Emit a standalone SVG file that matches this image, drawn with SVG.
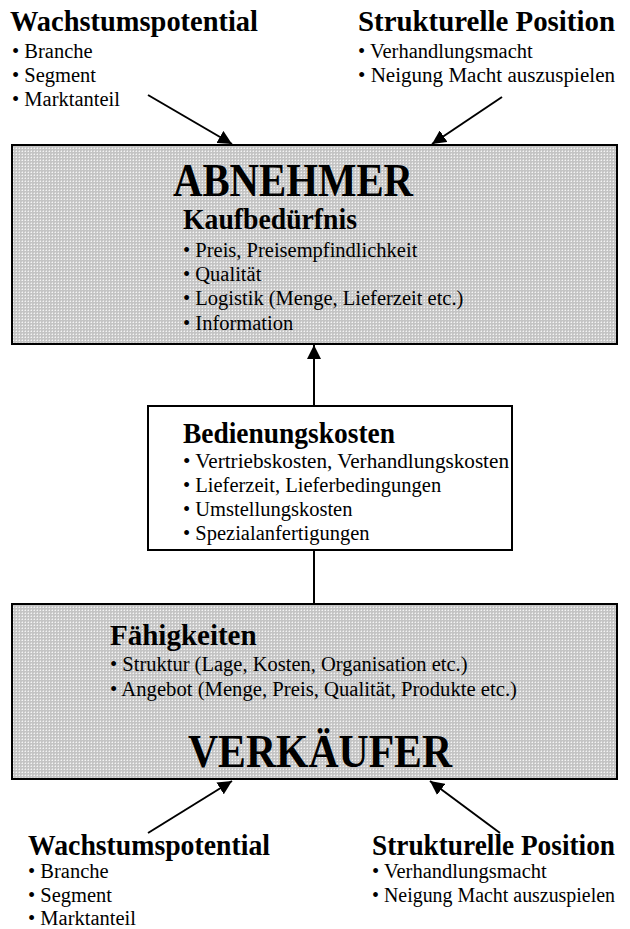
<svg xmlns="http://www.w3.org/2000/svg" width="630" height="929" viewBox="0 0 630 929">
<style>
text{font-family:"Liberation Serif","Times New Roman",serif;fill:#000}
.h{font-weight:bold;font-size:29px}
.b{font-size:20.5px}
.big{font-weight:bold;font-size:46px}
.box{stroke:#000;stroke-width:2;fill:url(#dots)}
.ln{stroke:#000;stroke-width:2;fill:none}
</style>
<defs>
<pattern id="dots" width="3" height="3" patternUnits="userSpaceOnUse">
<rect width="3" height="3" fill="#c4c4c4"/>
<rect x="1" y="1" width="1" height="1" fill="#f4f4f4"/>
<rect x="0" y="1" width="1" height="1" fill="#dadada"/>
<rect x="1" y="0" width="1" height="1" fill="#dadada"/>
</pattern>
<marker id="ah" markerUnits="userSpaceOnUse" markerWidth="16" markerHeight="14" refX="14" refY="7" orient="auto">
<path d="M0,0 L14,7 L0,14 Z" fill="#000"/>
</marker>
</defs>
<g id="wachstum-top">
<text class="h" x="10" y="31" textLength="248" lengthAdjust="spacingAndGlyphs">Wachstumspotential</text>
<text class="b" x="12" y="58">• Branche</text>
<text class="b" x="12" y="82">• Segment</text>
<text class="b" x="12" y="106">• Marktanteil</text>
</g>
<g id="struktur-top">
<text class="h" x="358" y="31" textLength="257" lengthAdjust="spacingAndGlyphs">Strukturelle Position</text>
<text class="b" x="358" y="58">• Verhandlungsmacht</text>
<text class="b" x="358" y="82" textLength="257" lengthAdjust="spacingAndGlyphs">• Neigung Macht auszuspielen</text>
</g>
<g id="abnehmer">
<rect class="box" x="12" y="145" width="605" height="199"/>
<text class="big" x="173" y="196" textLength="240" lengthAdjust="spacingAndGlyphs">ABNEHMER</text>
<text class="h" x="183" y="229" textLength="174" lengthAdjust="spacingAndGlyphs">Kaufbedürfnis</text>
<text class="b" x="183" y="257">• Preis, Preisempfindlichkeit</text>
<text class="b" x="183" y="281">• Qualität</text>
<text class="b" x="183" y="305">• Logistik (Menge, Lieferzeit etc.)</text>
<text class="b" x="183" y="330">• Information</text>
</g>
<g id="bedienungskosten">
<rect x="148" y="406" width="364" height="144" fill="#fff" stroke="#000" stroke-width="2"/>
<text class="h" x="183" y="443" textLength="212" lengthAdjust="spacingAndGlyphs">Bedienungskosten</text>
<text class="b" x="183" y="468" textLength="326" lengthAdjust="spacingAndGlyphs">• Vertriebskosten, Verhandlungskosten</text>
<text class="b" x="183" y="492">• Lieferzeit, Lieferbedingungen</text>
<text class="b" x="183" y="516">• Umstellungskosten</text>
<text class="b" x="183" y="540">• Spezialanfertigungen</text>
</g>
<g id="verkaeufer">
<rect class="box" x="12" y="604" width="605" height="175"/>
<text class="h" x="110" y="645">Fähigkeiten</text>
<text class="b" x="110" y="671">• Struktur (Lage, Kosten, Organisation etc.)</text>
<text class="b" x="110" y="696" textLength="407" lengthAdjust="spacingAndGlyphs">• Angebot (Menge, Preis, Qualität, Produkte etc.)</text>
<text class="big" x="188" y="767" textLength="264" lengthAdjust="spacingAndGlyphs">VERKÄUFER</text>
</g>
<g id="wachstum-bottom">
<text class="h" x="28" y="855" textLength="242" lengthAdjust="spacingAndGlyphs">Wachstumspotential</text>
<text class="b" x="28" y="878">• Branche</text>
<text class="b" x="28" y="902">• Segment</text>
<text class="b" x="28" y="925">• Marktanteil</text>
</g>
<g id="struktur-bottom">
<text class="h" x="372" y="855" textLength="243" lengthAdjust="spacingAndGlyphs">Strukturelle Position</text>
<text class="b" x="372" y="878">• Verhandlungsmacht</text>
<text class="b" x="372" y="902" textLength="243" lengthAdjust="spacingAndGlyphs">• Neigung Macht auszuspielen</text>
</g>
<g id="connectors">
<line class="ln" x1="148" y1="95" x2="232" y2="144" marker-end="url(#ah)"/>
<line class="ln" x1="502" y1="97" x2="432" y2="144" marker-end="url(#ah)"/>
<line class="ln" x1="314" y1="405" x2="314" y2="345" marker-end="url(#ah)"/>
<line class="ln" x1="314" y1="550" x2="314" y2="604"/>
<line class="ln" x1="148" y1="833" x2="232" y2="781" marker-end="url(#ah)"/>
<line class="ln" x1="500" y1="833" x2="430" y2="781" marker-end="url(#ah)"/>
</g>
</svg>
